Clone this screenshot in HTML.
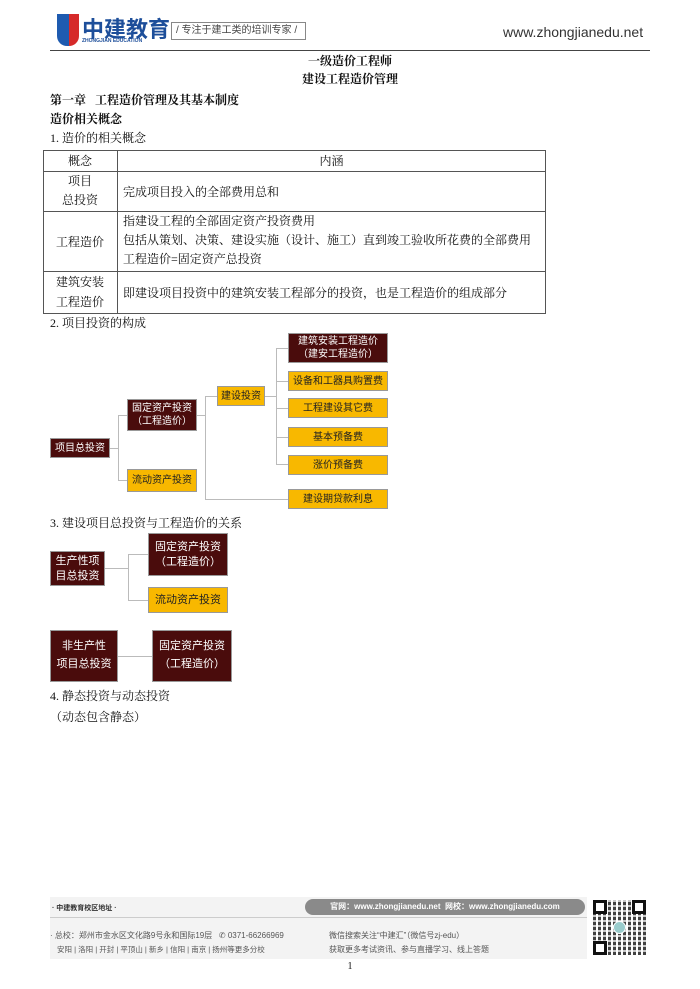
<!DOCTYPE html>
<html><head><meta charset="utf-8"><style>
*{margin:0;padding:0;box-sizing:border-box}
body{width:700px;height:989px;background:#fff;position:relative;overflow:hidden;font-family:"Liberation Serif","Noto Serif CJK SC",serif;color:#111}
.a{position:absolute;white-space:nowrap}
.s{font-family:"Liberation Sans","Noto Sans CJK SC",sans-serif}
.bx{position:absolute;display:flex;align-items:center;justify-content:center;text-align:center;font-family:"Liberation Sans","Noto Sans CJK SC",sans-serif;line-height:1.3;border:1px solid #999}
.d{background:#4a0c0c;color:#fff}
.y{background:#f8b800;color:#222}
.ln{position:absolute;background:#bbb}
.t{position:absolute;border-color:#555;border-style:solid}
</style></head><body>
<!-- header -->
<div class="a" style="left:57px;top:14px;width:22px;height:32px;background:linear-gradient(90deg,#1e5bb0 55%,#d62a2a 55%);border-radius:0 0 10px 10px"></div>
<div class="a s" style="left:82px;top:12px;font-size:22px;font-weight:bold;color:#1d4e9a">中建教育</div>
<div class="a s" style="left:82px;top:38px;font-size:5px;font-weight:bold;color:#1d4e9a">ZHONGJIAN EDUCATION</div>
<div class="a s" style="left:171px;top:22px;width:135px;height:18px;border:1px solid #888;font-size:10px;line-height:16px;padding-left:4px;color:#444">/ 专注于建工类的培训专家 /</div>
<div class="a s" style="left:503px;top:24px;font-size:14px;color:#333">www.zhongjianedu.net</div>
<div class="ln" style="left:50px;top:50px;width:600px;height:1px;background:#444"></div>
<div class="a" style="left:0;width:700px;text-align:center;top:52px;font-size:12px;font-weight:bold">一级造价工程师</div>
<div class="a" style="left:0;width:700px;text-align:center;top:70px;font-size:12px;font-weight:bold">建设工程造价管理</div>
<div class="a" style="left:50px;top:91px;font-size:12px;font-weight:bold">第一章&nbsp;&nbsp;&nbsp;工程造价管理及其基本制度</div>
<div class="a" style="left:50px;top:110px;font-size:12px;font-weight:bold">造价相关概念</div>
<div class="a" style="left:50px;top:129px;font-size:12px">1. 造价的相关概念</div>
<!-- table -->
<div class="t" style="left:43px;top:150px;width:503px;height:164px;border-width:1px"></div>
<div class="t" style="left:117px;top:150px;width:0;height:164px;border-width:0 0 0 1px"></div>
<div class="t" style="left:43px;top:171px;width:503px;border-width:1px 0 0 0"></div>
<div class="t" style="left:43px;top:211px;width:503px;border-width:1px 0 0 0"></div>
<div class="t" style="left:43px;top:271px;width:503px;border-width:1px 0 0 0"></div>
<div class="a" style="left:43px;width:74px;text-align:center;top:152px;font-size:12px">概念</div>
<div class="a" style="left:117px;width:429px;text-align:center;top:152px;font-size:12px">内涵</div>
<div class="a" style="left:43px;width:74px;text-align:center;top:172px;font-size:12px;line-height:19px;white-space:normal">项目<br>总投资</div>
<div class="a" style="left:123px;top:183px;font-size:12px">完成项目投入的全部费用总和</div>
<div class="a" style="left:43px;width:74px;text-align:center;top:233px;font-size:12px">工程造价</div>
<div class="a" style="left:123px;top:212px;font-size:12px;line-height:19px">指建设工程的全部固定资产投资费用<br>包括从策划、决策、建设实施（设计、施工）直到竣工验收所花费的全部费用<br>工程造价=固定资产总投资</div>
<div class="a" style="left:43px;width:74px;text-align:center;top:272px;font-size:12px;line-height:20px">建筑安装<br>工程造价</div>
<div class="a" style="left:123px;top:284px;font-size:12px">即建设项目投资中的建筑安装工程部分的投资，也是工程造价的组成部分</div>
<div class="a" style="left:50px;top:314px;font-size:12px">2. 项目投资的构成</div>
<!-- diagram 1 lines -->
<div class="ln" style="left:110px;top:448px;width:8px;height:1px"></div>
<div class="ln" style="left:118px;top:415px;width:1px;height:66px"></div>
<div class="ln" style="left:118px;top:415px;width:9px;height:1px"></div>
<div class="ln" style="left:118px;top:480px;width:9px;height:1px"></div>
<div class="ln" style="left:197px;top:415px;width:8px;height:1px"></div>
<div class="ln" style="left:205px;top:396px;width:1px;height:104px"></div>
<div class="ln" style="left:205px;top:396px;width:12px;height:1px"></div>
<div class="ln" style="left:205px;top:499px;width:83px;height:1px"></div>
<div class="ln" style="left:265px;top:396px;width:11px;height:1px"></div>
<div class="ln" style="left:276px;top:348px;width:1px;height:117px"></div>
<div class="ln" style="left:276px;top:348px;width:12px;height:1px"></div>
<div class="ln" style="left:276px;top:381px;width:12px;height:1px"></div>
<div class="ln" style="left:276px;top:408px;width:12px;height:1px"></div>
<div class="ln" style="left:276px;top:437px;width:12px;height:1px"></div>
<div class="ln" style="left:276px;top:464px;width:12px;height:1px"></div>
<div class="bx d" style="left:50px;top:438px;width:60px;height:20px;font-size:10px">项目总投资</div>
<div class="bx d" style="left:127px;top:399px;width:70px;height:32px;font-size:10px">固定资产投资<br>（工程造价）</div>
<div class="bx y" style="left:127px;top:469px;width:70px;height:23px;font-size:10px">流动资产投资</div>
<div class="bx y" style="left:217px;top:386px;width:48px;height:20px;font-size:10px">建设投资</div>
<div class="bx d" style="left:288px;top:333px;width:100px;height:30px;font-size:10px">建筑安装工程造价<br>（建安工程造价）</div>
<div class="bx y" style="left:288px;top:371px;width:100px;height:20px;font-size:10px">设备和工器具购置费</div>
<div class="bx y" style="left:288px;top:398px;width:100px;height:20px;font-size:10px">工程建设其它费</div>
<div class="bx y" style="left:288px;top:427px;width:100px;height:20px;font-size:10px">基本预备费</div>
<div class="bx y" style="left:288px;top:455px;width:100px;height:20px;font-size:10px">涨价预备费</div>
<div class="bx y" style="left:288px;top:489px;width:100px;height:20px;font-size:10px">建设期贷款利息</div>
<div class="a" style="left:50px;top:514px;font-size:12px">3. 建设项目总投资与工程造价的关系</div>
<!-- diagram 2 -->
<div class="ln" style="left:105px;top:568px;width:23px;height:1px"></div>
<div class="ln" style="left:128px;top:554px;width:1px;height:47px"></div>
<div class="ln" style="left:128px;top:554px;width:20px;height:1px"></div>
<div class="ln" style="left:128px;top:600px;width:20px;height:1px"></div>
<div class="ln" style="left:118px;top:656px;width:34px;height:1px"></div>
<div class="bx d" style="left:50px;top:551px;width:55px;height:35px;font-size:11px">生产性项<br>目总投资</div>
<div class="bx d" style="left:148px;top:533px;width:80px;height:43px;font-size:11px">固定资产投资<br>（工程造价）</div>
<div class="bx y" style="left:148px;top:587px;width:80px;height:26px;font-size:11px">流动资产投资</div>
<div class="bx d" style="left:50px;top:630px;width:68px;height:52px;font-size:11px;line-height:1.6">非生产性<br>项目总投资</div>
<div class="bx d" style="left:152px;top:630px;width:80px;height:52px;font-size:11px;line-height:1.6">固定资产投资<br>（工程造价）</div>
<div class="a" style="left:50px;top:687px;font-size:12px">4. 静态投资与动态投资</div>
<div class="a" style="left:50px;top:708px;font-size:12px">（动态包含静态）</div>
<!-- footer -->
<div class="a" style="left:50px;top:897px;width:537px;height:62px;background:#f3f3f3"></div>
<div class="a" style="left:50px;top:917px;width:537px;height:1px;background:#ccc"></div>
<div class="a s" style="left:52px;top:903px;font-size:7px;font-weight:bold;color:#333">· 中建教育校区地址 ·</div>
<div class="a s" style="left:305px;top:899px;width:280px;height:16px;background:#8a8a8a;border-radius:8px;color:#fff;font-size:8px;font-weight:bold;line-height:16px;text-align:center">官网：www.zhongjianedu.net&nbsp;&nbsp;网校：www.zhongjianedu.com</div>
<div class="a s" style="left:50px;top:930px;font-size:8px;color:#555">· 总校：郑州市金水区文化路9号永和国际19层&nbsp;&nbsp;&nbsp;✆ 0371-66266969</div>
<div class="a s" style="left:57px;top:944px;font-size:7.5px;color:#555">安阳 | 洛阳 | 开封 | 平顶山 | 新乡 | 信阳 | 南京 | 扬州等更多分校</div>
<div class="a s" style="left:329px;top:930px;font-size:8px;color:#555">微信搜索关注“中建汇”（微信号zj-edu）</div>
<div class="a s" style="left:329px;top:944px;font-size:8px;color:#555">获取更多考试资讯、参与直播学习、线上答题</div>
<div class="a" style="left:593px;top:900px;width:53px;height:55px;background:repeating-linear-gradient(90deg,#222 0 3px,#fff 3px 5px),#222;opacity:.85"></div>
<div class="a" style="left:593px;top:900px;width:53px;height:55px;background:repeating-linear-gradient(0deg,transparent 0 3px,rgba(255,255,255,.7) 3px 5px)"></div>
<div class="a" style="left:593px;top:900px;width:14px;height:14px;border:3px solid #111;background:#fff"></div>
<div class="a" style="left:632px;top:900px;width:14px;height:14px;border:3px solid #111;background:#fff"></div>
<div class="a" style="left:593px;top:941px;width:14px;height:14px;border:3px solid #111;background:#fff"></div>
<div class="a" style="left:613px;top:921px;width:13px;height:13px;border-radius:50%;background:#9cc;border:1px solid #fff"></div>
<div class="a" style="left:0;width:700px;text-align:center;top:961px;font-size:10px">1</div>
</body></html>
